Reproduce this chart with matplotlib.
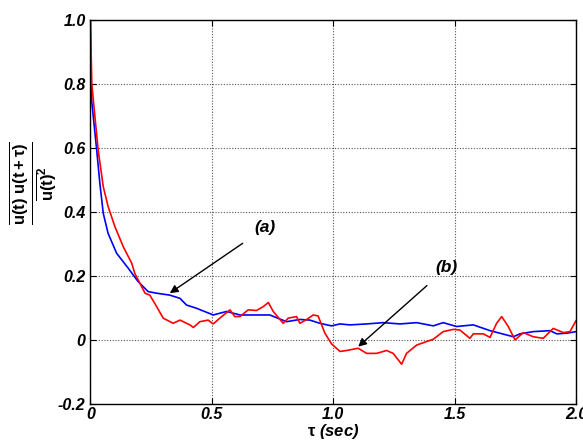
import matplotlib
matplotlib.use("Agg")
import matplotlib.pyplot as plt

plt.rcParams["font.family"] = ["Liberation Sans", "DejaVu Sans"]
plt.rcParams["mathtext.fontset"] = "custom"
plt.rcParams["mathtext.rm"] = "Liberation Sans:bold"
plt.rcParams["mathtext.it"] = "Liberation Sans:bold"
plt.rcParams["mathtext.bf"] = "Liberation Sans:bold"

# autocorrelation curves, lag in seconds
t_a = [0, 0.003, 0.005, 0.026, 0.039, 0.053, 0.073, 0.108, 0.156, 0.197, 0.238,
       0.273, 0.327, 0.369, 0.396, 0.437, 0.506, 0.561, 0.616, 0.739, 0.808,
       0.863, 0.904, 0.945, 0.993, 1.028, 1.069, 1.138, 1.206, 1.275, 1.344,
       1.412, 1.453, 1.508, 1.577, 1.646, 1.742, 1.769, 1.824, 1.893, 1.921,
       1.962, 2.0]
r_a = [1.0, 0.80, 0.75, 0.594, 0.49, 0.396, 0.333, 0.271, 0.224, 0.182, 0.151,
       0.146, 0.140, 0.130, 0.109, 0.099, 0.078, 0.089, 0.078, 0.078, 0.057,
       0.064, 0.062, 0.052, 0.044, 0.050, 0.047, 0.050, 0.054, 0.050, 0.054,
       0.044, 0.054, 0.042, 0.047, 0.029, 0.010, 0.019, 0.026, 0.029, 0.019,
       0.021, 0.026]

t_b = [0, 0.006, 0.012, 0.032, 0.053, 0.073, 0.101, 0.135, 0.170, 0.183, 0.204,
       0.225, 0.245, 0.273, 0.300, 0.341, 0.369, 0.410, 0.424, 0.451, 0.485, 0.506,
       0.533, 0.575, 0.595, 0.616, 0.650, 0.684, 0.712, 0.733, 0.753, 0.794,
       0.815, 0.849, 0.863, 0.891, 0.918, 0.938, 0.966, 0.993, 1.028, 1.055,
       1.103, 1.138, 1.179, 1.220, 1.247, 1.282, 1.302, 1.344, 1.385, 1.412,
       1.453, 1.495, 1.522, 1.563, 1.577, 1.618, 1.646, 1.673, 1.694, 1.721,
       1.749, 1.783, 1.824, 1.865, 1.906, 1.948, 1.975, 2.0]
r_b = [1.0, 0.80, 0.75, 0.594, 0.479, 0.417, 0.354, 0.292, 0.240, 0.208, 0.177,
       0.146, 0.140, 0.104, 0.068, 0.052, 0.062, 0.047, 0.039, 0.057, 0.062, 0.050,
       0.068, 0.094, 0.073, 0.073, 0.094, 0.092, 0.104, 0.117, 0.089, 0.052,
       0.068, 0.073, 0.052, 0.064, 0.078, 0.075, 0.021, -0.012, -0.036, -0.033,
       -0.026, -0.042, -0.042, -0.033, -0.042, -0.076, -0.042, -0.016, -0.005, 0.002,
       0.026, 0.033, 0.031, 0.005, 0.019, 0.019, 0.008, 0.052, 0.073, 0.042,
       0.000, 0.023, 0.010, 0.005, 0.036, 0.023, 0.026, 0.060]

x_ticks = [0, 0.5, 1.0, 1.5, 2.0]
x_labels = ["0", "0.5", "1.0", "1.5", "2.0"]
y_ticks = [-0.2, 0, 0.2, 0.4, 0.6, 0.8, 1.0]
y_labels = ["-0.2", "0", "0.2", "0.4", "0.6", "0.8", "1.0"]

fig = plt.figure(figsize=(5.83, 4.41), dpi=100)
ax = fig.add_axes([0.155, 0.084, 0.833, 0.871])

ax.plot(t_a, r_a, color="blue", lw=1.2)
ax.plot(t_b, r_b, color="red", lw=1.2)

ax.set_xlim(0, 2.0)
ax.set_ylim(-0.2, 1.0)
ax.set_xticks(x_ticks)
ax.set_xticklabels(x_labels)
ax.set_yticks(y_ticks)
ax.set_yticklabels(y_labels)
ax.tick_params(direction="in", top=True, right=True, length=4, labelsize=11.5)
ax.tick_params(axis="x", pad=2)
for lab in ax.get_xticklabels() + ax.get_yticklabels():
    lab.set_fontweight("bold")
    lab.set_fontstyle("italic")
ax.grid(True, color="#555555", linestyle=(0, (1, 1.5)), linewidth=0.8)
for s in ax.spines.values():
    s.set_linewidth(1.0)

ax.set_xlabel(r"$\tau$ (sec)", fontsize=12, fontweight="bold", fontstyle="italic", labelpad=0)
fig.text(0.056, 0.585,
         r"$\frac{\overline{u(t)\ u(t+\tau)}}{\overline{u(t)}^{2}}$",
         rotation=90, fontsize=17, ha="center", va="center")

ax.annotate("(a)", xy=(0.327, 0.146), xytext=(0.72, 0.35),
            fontsize=12.5, fontweight="bold", fontstyle="italic",
            ha="center", va="center",
            arrowprops=dict(arrowstyle="-|>", color="black", lw=1.0,
                            shrinkA=8, shrinkB=0, mutation_scale=12))
ax.annotate("(b)", xy=(1.103, -0.021), xytext=(1.468, 0.225),
            fontsize=12.5, fontweight="bold", fontstyle="italic",
            ha="center", va="center",
            arrowprops=dict(arrowstyle="-|>", color="black", lw=1.0,
                            shrinkA=8, shrinkB=0, mutation_scale=12))

fig.savefig("out.png", dpi=100)
